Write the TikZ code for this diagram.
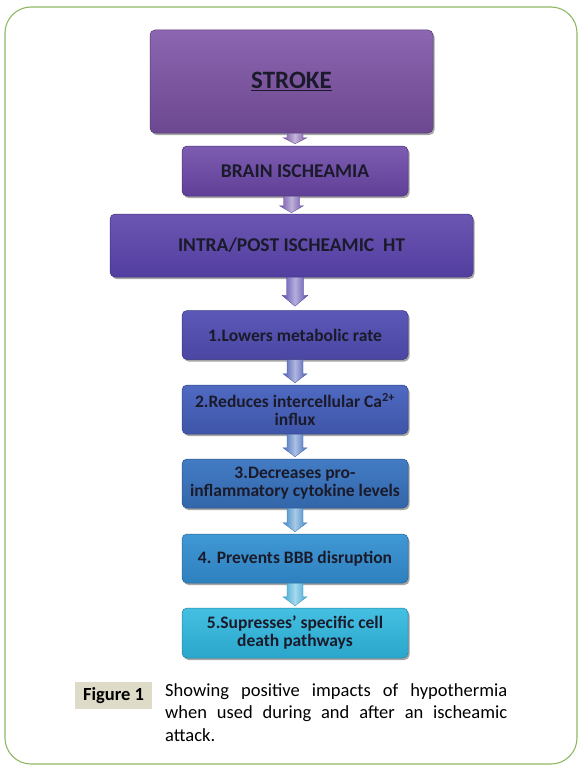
\documentclass[tikz,border=0pt]{standalone}
\usepackage{fontspec}
\setmainfont{Carlito}
\usetikzlibrary{calc,shadows}
\definecolor{framegreen}{HTML}{8DB863}
\definecolor{figbg}{HTML}{DEDCC8}
\definecolor{boxtext}{HTML}{1A1A2A}
\definecolor{stA}{HTML}{8C66B0}\definecolor{stB}{HTML}{6C4890}
\definecolor{brA}{HTML}{7D5DB2}\definecolor{brB}{HTML}{603F96}
\definecolor{inA}{HTML}{6C56B2}\definecolor{inB}{HTML}{523EA0}
\definecolor{aA}{HTML}{5C58B8}\definecolor{aB}{HTML}{4A46A2}
\definecolor{bA}{HTML}{506AC2}\definecolor{bB}{HTML}{3E55A8}
\definecolor{cA}{HTML}{437CC4}\definecolor{cB}{HTML}{3366AA}
\definecolor{dA}{HTML}{4098D4}\definecolor{dB}{HTML}{2E80BE}
\definecolor{eA}{HTML}{45C0E2}\definecolor{eB}{HTML}{2AA6CC}
\definecolor{ar1}{HTML}{7A58A8}\definecolor{ar2}{HTML}{6E52AA}
\definecolor{ar3}{HTML}{5A4EB0}\definecolor{ar4}{HTML}{4E5CB6}
\definecolor{ar5}{HTML}{4470BE}\definecolor{ar6}{HTML}{3E88C8}
\definecolor{ar7}{HTML}{3CA8D6}
\tikzset{
  flowbox/.style 2 args={rounded corners=5pt, top color=#1, bottom color=#2,
    draw=#2!80!black, line width=0.5pt, text=boxtext, align=center, inner sep=2pt,
    font=\bfseries\fontsize{17.5}{18}\selectfont,
    drop shadow={shadow xshift=1.5pt, shadow yshift=-2pt, opacity=0.35, fill=black}},
  bigtext/.style={font=\bfseries\fontsize{19.5}{21}\selectfont},
  arrowfill/.style={left color=#1, right color=#1, middle color=#1!45!white, draw=#1!85!black, line width=0.3pt}
}
% #1 from node, #2 to node, #3 colour, #4 shaft half width, #5 head half width, #6 head length, #7 end gap
\newcommand\flowarrow[7]{%
  \path[arrowfill=#3] let \p1=(#1.south), \p2=(#2.north) in
    ({\x2-#4pt},\y1) -- ({\x2+#4pt},\y1) -- ({\x2+#4pt},{\y2+#7pt+#6pt}) -- ({\x2+#5pt},{\y2+#7pt+#6pt})
    -- (\x2,{\y2+#7pt}) -- ({\x2-#5pt},{\y2+#7pt+#6pt}) -- ({\x2-#4pt},{\y2+#7pt+#6pt}) -- cycle;}
\begin{document}
\begin{tikzpicture}[x=1pt,y=-1pt]
\useasboundingbox (0,0) rectangle (581,773);
\draw[framegreen, line width=1.1pt, rounded corners=26pt] (5,7) rectangle (577,764);

\node[flowbox={stA}{stB}, minimum width=283, minimum height=103,
      font=\bfseries\fontsize{25}{28}\selectfont] (stroke) at (291.5,81.5) {\underline{STROKE}};
\node[flowbox={brA}{brB}, bigtext, minimum width=226, minimum height=50] (brain) at (295,171) {BRAIN ISCHEAMIA};
\node[flowbox={inA}{inB}, bigtext, minimum width=363, minimum height=63] (intra) at (291.5,245.5) {INTRA/POST ISCHEAMIC\ \ HT};
\node[flowbox={aA}{aB}, minimum width=226, minimum height=49] (s1) at (295,335) {1.Lowers metabolic rate};
\node[flowbox={bA}{bB}, minimum width=226, minimum height=49] (s2) at (295,409.5) {2.Reduces intercellular Ca\textsuperscript{2+}\\influx};
\node[flowbox={cA}{cB}, minimum width=226, minimum height=49] (s3) at (295,483.5) {3.Decreases pro-\\inflammatory cytokine levels};
\node[flowbox={dA}{dB}, minimum width=226, minimum height=49] (s4) at (295,558.5) {4. Prevents BBB disruption};
\node[flowbox={eA}{eB}, minimum width=226, minimum height=50] (s5) at (295,633) {5.Supresses' specific cell\\death pathways};

\flowarrow{stroke}{brain}{ar1}{8}{12}{6}{2}
\flowarrow{brain}{intra}{ar2}{8}{12}{7}{1}
\flowarrow{intra}{s1}{ar3}{8.5}{13}{11}{4}
\flowarrow{s1}{s2}{ar4}{8}{12}{9}{2}
\flowarrow{s2}{s3}{ar5}{8}{12}{9}{2}
\flowarrow{s3}{s4}{ar6}{8}{12}{9}{2}
\flowarrow{s4}{s5}{ar7}{8}{12}{9}{2}

\node[fill=figbg, minimum width=77, minimum height=27, inner sep=0pt,
      font=\bfseries\fontsize{18.5}{20}\selectfont] (fig) at (113.5,695.5) {Figure 1};
\node[anchor=north west, text width=342, inner sep=0pt, align=justify,
      font=\fontsize{18.5}{22.5}\selectfont] (cap) at (165,683)
  {Showing positive impacts of hypothermia\linebreak when used during and after an ischeamic\linebreak attack.};
\end{tikzpicture}
\end{document}
